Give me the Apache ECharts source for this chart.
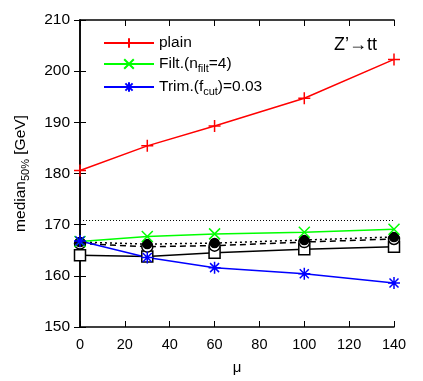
<!DOCTYPE html>
<html>
<head>
<meta charset="utf-8">
<script src="https://cdn.jsdelivr.net/npm/echarts@6/dist/echarts.min.js"></script>
<style>
  html, body { margin: 0; padding: 0; background: #fff; }
  #plot1 { width: 423px; height: 381px; }
</style>
</head>
<body>
<div id="plot1"></div>
<script>
// pile-up values (x) and median50% per grooming
const mu = [0, 30, 60, 100, 140];
const plain = [180.6, 185.4, 189.3, 194.7, 202.3];
const filt = [166.7, 167.7, 168.2, 168.5, 169.1];
const trim = [166.8, 163.6, 161.6, 160.4, 158.6];
const blackSquares = [164.0, 163.8, 164.5, 165.2, 165.7];
const blackCircles = [166.3, 165.7, 165.9, 166.6, 167.2];
const blackFilled = [166.6, 166.2, 166.4, 167.0, 167.6];
const topMass = 170.8;

const xTicks = { min: 0, max: 140, interval: 20 };
const yTicks = { min: 150, max: 210, interval: 10 };

const FONT = 'Liberation Sans, Arial, sans-serif';
const plus = 'path://M0,-1L0,1M-1,0L1,0';
const cross = 'path://M-1,-1L1,1M-1,1L1,-1';
const star = 'path://M0,-1L0,1M-1,0L1,0M-0.75,-0.75L0.75,0.75M-0.75,0.75L0.75,-0.75';

function pts(ys) { return mu.map(function (m, i) { return [m, ys[i]]; }); }

function mkSeries(name, ys, color, symbol, size, lineType, fill) {
  return {
    name: name,
    type: 'line',
    data: pts(ys),
    symbol: symbol,
    symbolSize: size,
    showSymbol: true,
    z: 3,
    lineStyle: { color: color, width: 1.5, type: lineType },
    itemStyle: { color: fill, borderColor: color, borderWidth: 1.5 },
    emphasis: { disabled: true },
    animation: false
  };
}

const chart = echarts.init(document.getElementById('plot1'));
const series = [
  mkSeries('black1', blackSquares, '#000', 'rect', 11, 'solid', '#fff'),
  mkSeries('black2', blackCircles, '#000', 'circle', 11, [6, 4], '#fff'),
  mkSeries('black3', blackFilled, '#000', 'circle', 9, [2, 3], '#000'),
  mkSeries('plain', plain, '#ff0000', plus, 12, 'solid', 'none'),
  mkSeries('filt', filt, '#00ff00', cross, 11, 'solid', 'none'),
  mkSeries('trim', trim, '#0000ff', star, 12, 'solid', 'none')
];
series[0].markLine = {
  silent: true,
  symbol: 'none',
  label: { show: false },
  lineStyle: { color: '#000', type: [1, 2], width: 1 },
  data: [{ yAxis: topMass }]
};

const labels = {
  plain: '{a|plain}',
  filt: '{a|Filt.(n}{s|filt}{a|=4)}',
  trim: '{a|Trim.(f}{s|cut}{a|)=0.03}'
};

chart.setOption({
  animation: false,
  textStyle: { fontFamily: FONT },
  grid: { left: 80, right: 29, top: 20, bottom: 54 },
  title: {
    text: 'Z’→tt',
    right: 41, top: 31,
    textStyle: { fontFamily: FONT, fontSize: 18, fontWeight: 'normal', color: '#000' }
  },
  legend: {
    data: ['plain', 'filt', 'trim'],
    orient: 'vertical',
    left: 98, top: 30,
    itemWidth: 50, itemHeight: 12, itemGap: 3,
    formatter: function (n) { return labels[n]; },
    textStyle: {
      color: '#000',
      rich: {
        a: { fontSize: 15.5, fontFamily: FONT, color: '#000', lineHeight: 18 },
        s: { fontSize: 11, fontFamily: FONT, color: '#000', padding: [9, 0, 0, 0], lineHeight: 18 }
      }
    }
  },
  xAxis: [{
    type: 'value', min: xTicks.min, max: xTicks.max, interval: xTicks.interval,
    name: 'μ', nameLocation: 'middle', nameGap: 33,
    nameTextStyle: { fontSize: 15, color: '#000', fontFamily: FONT },
    axisLine: { show: true, lineStyle: { color: '#000', width: 1.5 } },
    axisTick: { inside: true, length: 6, lineStyle: { color: '#000' } },
    axisLabel: { fontSize: 14.5, color: '#000', margin: 10, fontFamily: FONT },
    splitLine: { show: false }
  }, {
    type: 'value', position: 'top', min: xTicks.min, max: xTicks.max, interval: xTicks.interval,
    axisLine: { show: true, lineStyle: { color: '#000', width: 1.5 } },
    axisTick: { inside: true, length: 6, lineStyle: { color: '#000' } },
    axisLabel: { show: false }, splitLine: { show: false }
  }],
  yAxis: [{
    type: 'value', min: yTicks.min, max: yTicks.max, interval: yTicks.interval,
    name: '{a|median}{s|50%}{a| [GeV]}', nameLocation: 'middle', nameGap: 50, nameRotate: 90,
    nameTextStyle: {
      fontSize: 15, color: '#000', fontFamily: FONT,
      rich: {
        a: { fontSize: 15.5, fontFamily: FONT, color: '#000', lineHeight: 18 },
        s: { fontSize: 11, fontFamily: FONT, color: '#000', padding: [9, 0, 0, 0], lineHeight: 18 }
      }
    },
    axisLine: { show: true, lineStyle: { color: '#000', width: 1.5 } },
    axisTick: { inside: true, length: 6, lineStyle: { color: '#000' } },
    axisLabel: { fontSize: 15.5, color: '#000', margin: 10, fontFamily: FONT },
    splitLine: { show: false }
  }, {
    type: 'value', position: 'right', min: yTicks.min, max: yTicks.max, interval: yTicks.interval,
    axisLine: { show: true, lineStyle: { color: '#000', width: 1.5 } },
    axisTick: { inside: true, length: 6, lineStyle: { color: '#000' } },
    axisLabel: { show: false }, splitLine: { show: false }
  }],
  series: series
});
</script>
</body>
</html>
